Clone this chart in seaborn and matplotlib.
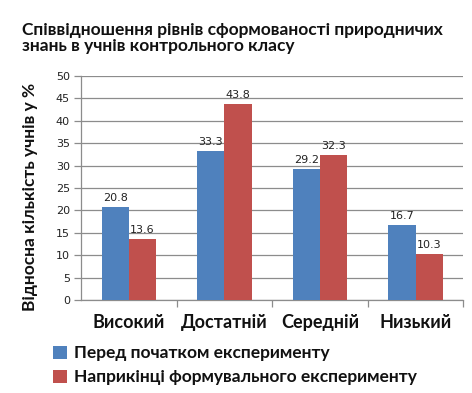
import matplotlib
matplotlib.use("Agg")
import matplotlib.pyplot as plt
import seaborn as sns
import pandas as pd
from matplotlib.patches import Patch

categories = ["Високий", "Достатній", "Середній", "Низький"]
series_names = ["Перед початком експерименту", "Наприкінці формувального експерименту"]
before = [20.8, 33.3, 29.2, 16.7]
after = [13.6, 43.8, 32.3, 10.3]
yticks = [0, 5, 10, 15, 20, 25, 30, 35, 40, 45, 50]
colors = ["#4F81BD", "#C0504D"]

df = pd.DataFrame({
    "cat": categories * 2,
    "series": [series_names[0]] * 4 + [series_names[1]] * 4,
    "value": before + after,
})

sns.set_theme(style="white")
plt.rcParams["font.family"] = ["DejaVu Sans"]

fig = plt.figure(figsize=(4.72, 3.93), dpi=100)
ax = fig.add_axes([0.1716, 0.2366, 0.81, 0.57])

sns.barplot(data=df, x="cat", y="value", hue="series", palette=colors,
            width=0.57, gap=0, saturation=1, ax=ax, legend=False, zorder=3,
            linewidth=0, edgecolor="none")

for cont in ax.containers:
    ax.bar_label(cont, fmt="%.1f", padding=3, fontsize=8, color="#222222")

ax.set_ylim(0, 50)
ax.set_yticks(yticks)
ax.set_yticklabels([str(t) for t in yticks], fontsize=8, color="#222222")
ax.set_xlim(-0.5, 3.5)
ax.yaxis.grid(True, color="#8c8c8c", linewidth=0.9, zorder=0)
ax.set_axisbelow(True)
for s in ["top", "right"]:
    ax.spines[s].set_visible(False)
for s in ["left", "bottom"]:
    ax.spines[s].set_color("#8c8c8c")
    ax.spines[s].set_linewidth(0.9)

ax.tick_params(axis="y", which="major", left=True, length=5, width=0.9, color="#8c8c8c", pad=3)
ax.set_xticks(range(4))
ax.set_xticklabels(categories, fontsize=13, fontweight="bold", family=["Lato", "DejaVu Sans"], color="#111111")
ax.tick_params(axis="x", which="major", bottom=False, pad=4)
ax.set_xticks([0.5, 1.5, 2.5, 3.5], minor=True)
ax.tick_params(axis="x", which="minor", bottom=True, length=5, width=0.9, color="#8c8c8c")

ax.set_xlabel("")
ax.set_ylabel("Відносна кількість учнів у %", fontsize=12.5, fontweight="bold",
              family=["Lato", "DejaVu Sans"], color="#111111")
ax.yaxis.set_label_coords(-0.112, 0.462)

fig.text(0.047, 0.945, "Співвідношення рівнів сформованості природничих\nзнань в учнів контрольного класу",
         fontsize=12.5, fontweight="bold", family=["Lato", "DejaVu Sans"], color="#111111",
         va="top", ha="left", linespacing=1.05)

handles = [Patch(facecolor=c, edgecolor="none") for c in colors]
fig.legend(handles, series_names, loc="lower left", bbox_to_anchor=(0.08, -0.02),
           frameon=False, prop={"family": ["Lato", "DejaVu Sans"], "weight": "bold", "size": 12.5},
           handlelength=0.8, handleheight=0.8, handletextpad=0.4, labelspacing=0.45,
           labelcolor="#111111")

fig.savefig("out.png", dpi=100)
